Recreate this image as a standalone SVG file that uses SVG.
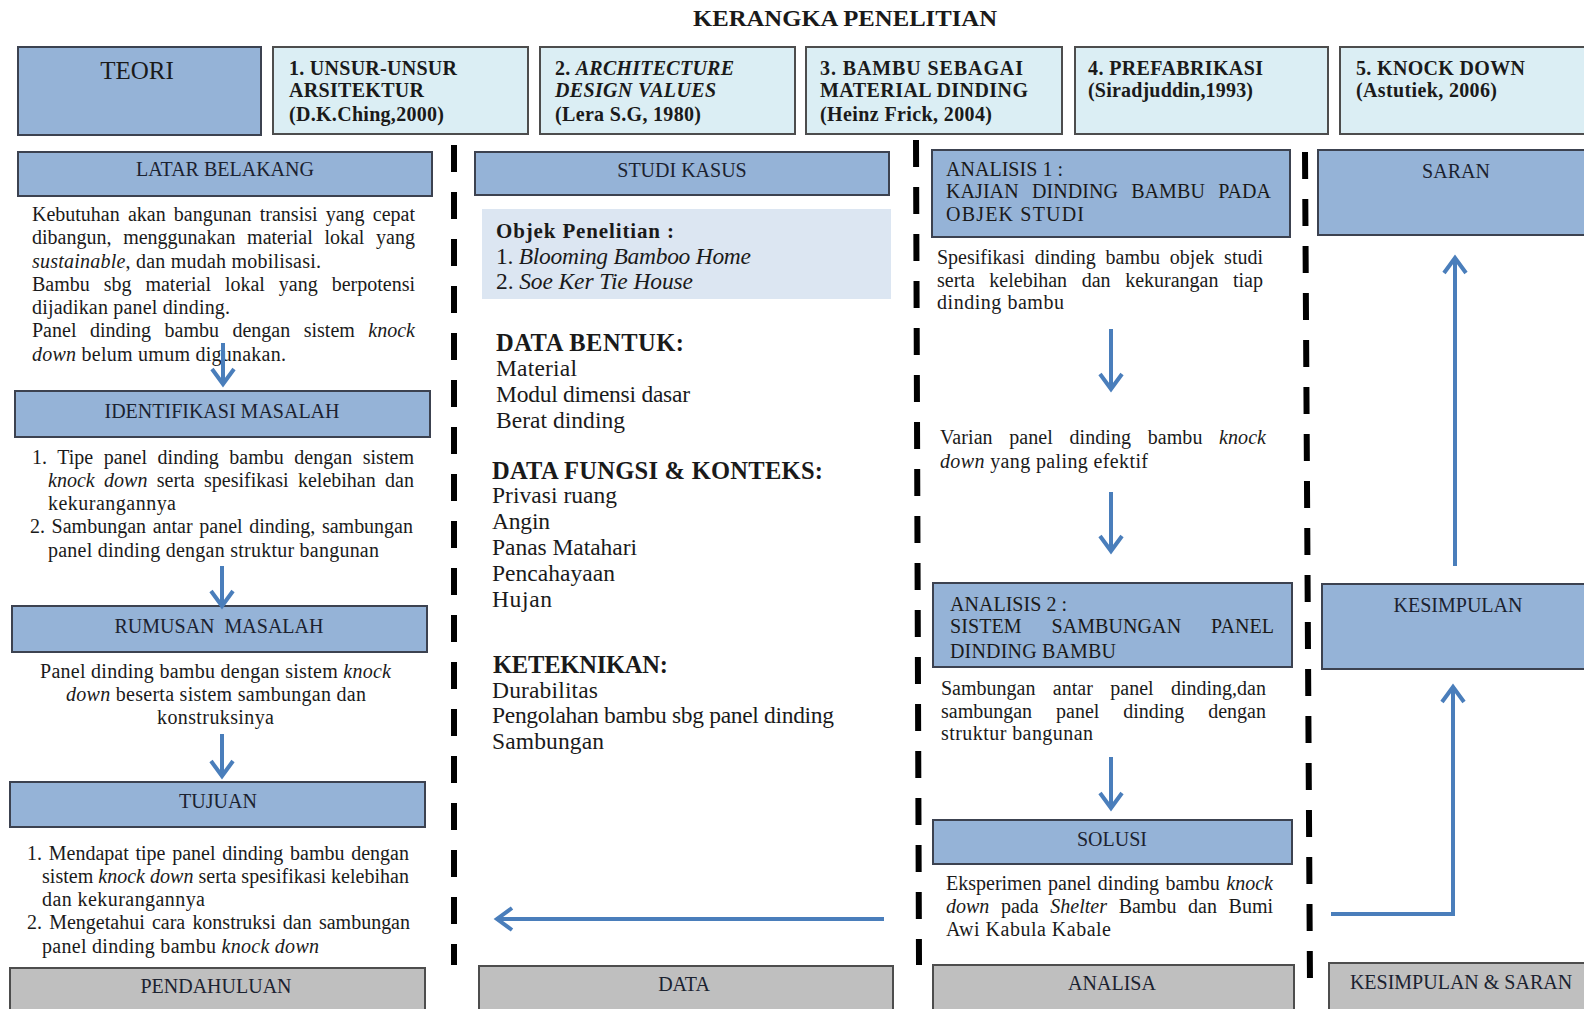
<svg xmlns="http://www.w3.org/2000/svg" width="1584" height="1009" viewBox="0 0 1584 1009">
<style>
text { font-family: "Liberation Serif", "Times New Roman", serif; fill: #1a1a1a; }
.t20 { font-size: 20px; }
.t22 { font-size: 23.5px; }
.h24 { font-size: 24.5px; font-weight: bold; }
.lbl { font-size: 20px; text-anchor: middle; fill: #1b2230; }
.hb { font-size: 20px; font-weight: bold; }
.i { font-style: italic; }
.bb { fill: #95b3d7; stroke: #3c4250; stroke-width: 2; }
.hl { fill: #dbeef4; stroke: #4d4d4d; stroke-width: 2; }
.gr { fill: #bfbfbf; stroke: #4d4d4d; stroke-width: 2; }
.lt { fill: #dce6f2; }
.ar { stroke: #4a7ebb; stroke-width: 4; fill: none; marker-end: url(#ah); }
.dv { stroke: #000; stroke-width: 6; stroke-dasharray: 27 20; fill: none; }
</style>
<defs>
<marker id="ah" markerUnits="userSpaceOnUse" markerWidth="30" markerHeight="30" viewBox="0 0 30 30" refX="23" refY="15" orient="auto">
<path d="M11,4 L26,15 L11,26" fill="none" stroke="#4a7ebb" stroke-width="4" stroke-linejoin="miter"/>
</marker>
</defs>
<rect width="1584" height="1009" fill="#ffffff"/>

<text id="title" x="845" y="26" text-anchor="middle" font-size="23" font-weight="bold" textLength="304" lengthAdjust="spacingAndGlyphs">KERANGKA PENELITIAN</text>

<g id="teori">
<rect class="bb" x="18" y="47" width="243" height="88"/>
<text x="137" y="79" text-anchor="middle" font-size="25" fill="#1b2230">TEORI</text>
</g>
<g id="teori1">
<rect class="hl" x="273" y="47" width="255" height="87"/>
<text class="hb" x="289" y="75" textLength="168">1. UNSUR-UNSUR</text>
<text class="hb" x="289" y="97" textLength="135">ARSITEKTUR</text>
<text class="hb" x="289" y="121" textLength="155">(D.K.Ching,2000)</text>
</g>
<g id="teori2">
<rect class="hl" x="540" y="47" width="255" height="87"/>
<text class="hb" x="555" y="75" textLength="179">2. <tspan class="i">ARCHITECTURE</tspan></text>
<text class="hb i" x="555" y="97" textLength="161">DESIGN VALUES</text>
<text class="hb" x="555" y="121" textLength="146">(Lera S.G, 1980)</text>
</g>
<g id="teori3">
<rect class="hl" x="806" y="47" width="256" height="87"/>
<text class="hb" x="820" y="75" textLength="203">3. BAMBU SEBAGAI</text>
<text class="hb" x="820" y="97" textLength="208">MATERIAL DINDING</text>
<text class="hb" x="820" y="121" textLength="172">(Heinz Frick, 2004)</text>
</g>
<g id="teori4">
<rect class="hl" x="1075" y="47" width="253" height="87"/>
<text class="hb" x="1088" y="75" textLength="175">4. PREFABRIKASI</text>
<text class="hb" x="1088" y="97" textLength="165">(Siradjuddin,1993)</text>
</g>
<g id="teori5">
<rect class="hl" x="1340" y="47" width="262" height="87"/>
<text class="hb" x="1356" y="75" textLength="169">5. KNOCK DOWN</text>
<text class="hb" x="1356" y="97" textLength="141">(Astutiek, 2006)</text>
</g>

<g id="latar-belakang">
<rect class="bb" x="18" y="152" width="414" height="44"/>
<text class="lbl" x="225" y="176">LATAR BELAKANG</text>
<text class="t20" x="32" y="221" textLength="383" word-spacing="3.2">Kebutuhan akan bangunan transisi yang cepat</text>
<text class="t20" x="32" y="244" textLength="383" word-spacing="6.7">dibangun, menggunakan material lokal yang</text>
<text class="t20" x="32" y="268" textLength="289"><tspan class="i">sustainable</tspan>, dan mudah mobilisasi.</text>
<text class="t20" x="32" y="291" textLength="383" word-spacing="8.9">Bambu sbg material lokal yang berpotensi</text>
<text class="t20" x="32" y="314" textLength="198">dijadikan panel dinding.</text>
<text class="t20" x="32" y="337" textLength="383" word-spacing="8.5">Panel dinding bambu dengan sistem <tspan class="i">knock</tspan></text>
<text class="t20" x="32" y="361" textLength="254"><tspan class="i">down</tspan> belum umum digunakan.</text>
</g>

<g id="identifikasi-masalah">
<rect class="bb" x="15" y="391" width="415" height="46"/>
<text class="lbl" x="222" y="418">IDENTIFIKASI MASALAH</text>
<text class="t20" x="32" y="464" textLength="382" word-spacing="5.4">1. Tipe panel dinding bambu dengan sistem</text>
<text class="t20" x="48" y="487" textLength="366" word-spacing="4.4"><tspan class="i">knock down</tspan> serta spesifikasi kelebihan dan</text>
<text class="t20" x="48" y="510" textLength="128">kekurangannya</text>
<text class="t20" x="30" y="533" textLength="383" word-spacing="1.6">2. Sambungan antar panel dinding, sambungan</text>
<text class="t20" x="48" y="557" textLength="331">panel dinding dengan struktur bangunan</text>
</g>

<g id="rumusan-masalah">
<rect class="bb" x="12" y="606" width="415" height="46"/>
<text class="lbl" x="219" y="633" style="white-space:pre">RUMUSAN  MASALAH</text>
<text class="t20" x="40" y="678" textLength="351">Panel dinding bambu dengan sistem <tspan class="i">knock</tspan></text>
<text class="t20" x="66" y="701" textLength="300"><tspan class="i">down</tspan> beserta sistem sambungan dan</text>
<text class="t20" x="157" y="724" textLength="117">konstruksinya</text>
</g>

<g id="tujuan">
<rect class="bb" x="10" y="782" width="415" height="45"/>
<text class="lbl" x="218" y="808">TUJUAN</text>
<text class="t20" x="27" y="860" textLength="382" word-spacing="1.7">1. Mendapat tipe panel dinding bambu dengan</text>
<text class="t20" x="42" y="883" textLength="367">sistem <tspan class="i">knock down</tspan> serta spesifikasi kelebihan</text>
<text class="t20" x="42" y="906" textLength="163">dan kekurangannya</text>
<text class="t20" x="27" y="929" textLength="383" word-spacing="2.2">2. Mengetahui cara konstruksi dan sambungan</text>
<text class="t20" x="42" y="953" textLength="277">panel dinding bambu <tspan class="i">knock down</tspan></text>
</g>

<g id="pendahuluan">
<rect class="gr" x="10" y="968" width="415" height="50"/>
<text class="lbl" x="216" y="993">PENDAHULUAN</text>
</g>

<g id="studi-kasus">
<rect class="bb" x="475" y="152" width="414" height="43"/>
<text class="lbl" x="682" y="177">STUDI KASUS</text>
</g>
<g id="objek-penelitian">
<rect class="lt" x="482" y="209" width="409" height="90"/>
<text x="496" y="238" font-size="21" font-weight="bold" textLength="178">Objek Penelitian :</text>
<text class="t22" x="496" y="264" font-size="22" textLength="255">1. <tspan class="i">Blooming Bamboo Home</tspan></text>
<text class="t22" x="496" y="289" font-size="22" textLength="197">2. <tspan class="i">Soe Ker Tie House</tspan></text>
</g>
<g id="data-list">
<text class="h24" x="496" y="351" textLength="188">DATA BENTUK:</text>
<text class="t22" x="496" y="376" textLength="81">Material</text>
<text class="t22" x="496" y="402" textLength="194">Modul dimensi dasar</text>
<text class="t22" x="496" y="428" textLength="129">Berat dinding</text>
<text class="h24" x="492" y="479" textLength="331">DATA FUNGSI &amp; KONTEKS:</text>
<text class="t22" x="492" y="503" textLength="125">Privasi ruang</text>
<text class="t22" x="492" y="529" textLength="58">Angin</text>
<text class="t22" x="492" y="555" textLength="145">Panas Matahari</text>
<text class="t22" x="492" y="581" textLength="123">Pencahayaan</text>
<text class="t22" x="492" y="607" textLength="60">Hujan</text>
<text class="h24" x="493" y="673" textLength="175">KETEKNIKAN:</text>
<text class="t22" x="492" y="698" textLength="106">Durabilitas</text>
<text class="t22" x="492" y="723" textLength="342">Pengolahan bambu sbg panel dinding</text>
<text class="t22" x="492" y="749" textLength="112">Sambungan</text>
</g>
<g id="data">
<rect class="gr" x="479" y="966" width="414" height="50"/>
<text class="lbl" x="684" y="991">DATA</text>
</g>

<g id="analisis1">
<rect class="bb" x="932" y="150" width="358" height="87"/>
<text class="t20" x="946" y="176" textLength="117" fill="#1b2230">ANALISIS 1 :</text>
<text class="t20" x="946" y="198" textLength="325" word-spacing="8.2" fill="#1b2230">KAJIAN DINDING BAMBU PADA</text>
<text class="t20" x="946" y="221" textLength="138" fill="#1b2230">OBJEK STUDI</text>
<text class="t20" x="937" y="264" textLength="326" word-spacing="4.8">Spesifikasi dinding bambu objek studi</text>
<text class="t20" x="937" y="287" textLength="326" word-spacing="9.6">serta kelebihan dan kekurangan tiap</text>
<text class="t20" x="937" y="309" textLength="127">dinding bambu</text>
</g>
<g id="varian">
<text class="t20" x="940" y="444" textLength="326" word-spacing="11.5">Varian panel dinding bambu <tspan class="i">knock</tspan></text>
<text class="t20" x="940" y="468" textLength="208"><tspan class="i">down</tspan> yang paling efektif</text>
</g>
<g id="analisis2">
<rect class="bb" x="933" y="583" width="359" height="84"/>
<text class="t20" x="950" y="611" textLength="117" fill="#1b2230">ANALISIS 2 :</text>
<text class="t20" x="950" y="633" textLength="324" word-spacing="24.8" fill="#1b2230">SISTEM SAMBUNGAN PANEL</text>
<text class="t20" x="950" y="658" textLength="166" fill="#1b2230">DINDING BAMBU</text>
<text class="t20" x="941" y="695" textLength="325" word-spacing="12.4">Sambungan antar panel dinding,dan</text>
<text class="t20" x="941" y="718" textLength="325" word-spacing="18.9">sambungan panel dinding dengan</text>
<text class="t20" x="941" y="740" textLength="152">struktur bangunan</text>
</g>
<g id="solusi">
<rect class="bb" x="933" y="820" width="359" height="44"/>
<text class="lbl" x="1112" y="846">SOLUSI</text>
<text class="t20" x="946" y="890" textLength="327" word-spacing="1.5">Eksperimen panel dinding bambu <tspan class="i">knock</tspan></text>
<text class="t20" x="946" y="913" textLength="327" word-spacing="6.6"><tspan class="i">down</tspan> pada <tspan class="i">Shelter</tspan> Bambu dan Bumi</text>
<text class="t20" x="946" y="936" textLength="165">Awi Kabula Kabale</text>
</g>
<g id="analisa">
<rect class="gr" x="933" y="965" width="361" height="50"/>
<text class="lbl" x="1112" y="990">ANALISA</text>
</g>

<g id="saran">
<rect class="bb" x="1318" y="150" width="280" height="85"/>
<text class="lbl" x="1456" y="178" font-size="19">SARAN</text>
</g>
<g id="kesimpulan">
<rect class="bb" x="1322" y="584" width="280" height="85"/>
<text class="lbl" x="1458" y="612" font-size="19">KESIMPULAN</text>
</g>
<g id="kesimpulan-saran">
<rect class="gr" x="1329" y="963" width="270" height="50"/>
<text class="lbl" x="1461" y="989">KESIMPULAN &amp; SARAN</text>
</g>

<g id="connectors">
<line class="dv" x1="454" y1="145" x2="454" y2="965"/>
<line class="dv" x1="916" y1="140" x2="919" y2="965"/>
<line class="dv" x1="1305" y1="152" x2="1310" y2="985"/>
<line class="ar" x1="223" y1="343" x2="223" y2="381"/>
<line class="ar" x1="222" y1="566" x2="222" y2="603"/>
<line class="ar" x1="222" y1="734" x2="222" y2="773"/>
<line class="ar" x1="1111" y1="329" x2="1111" y2="386"/>
<line class="ar" x1="1111" y1="492" x2="1111" y2="548"/>
<line class="ar" x1="1111" y1="757" x2="1111" y2="805"/>
<line class="ar" x1="884" y1="919" x2="500" y2="919"/>
<line class="ar" x1="1455" y1="566" x2="1455" y2="261"/>
<polyline class="ar" points="1331,914 1453,914 1453,690"/>
</g>
</svg>
